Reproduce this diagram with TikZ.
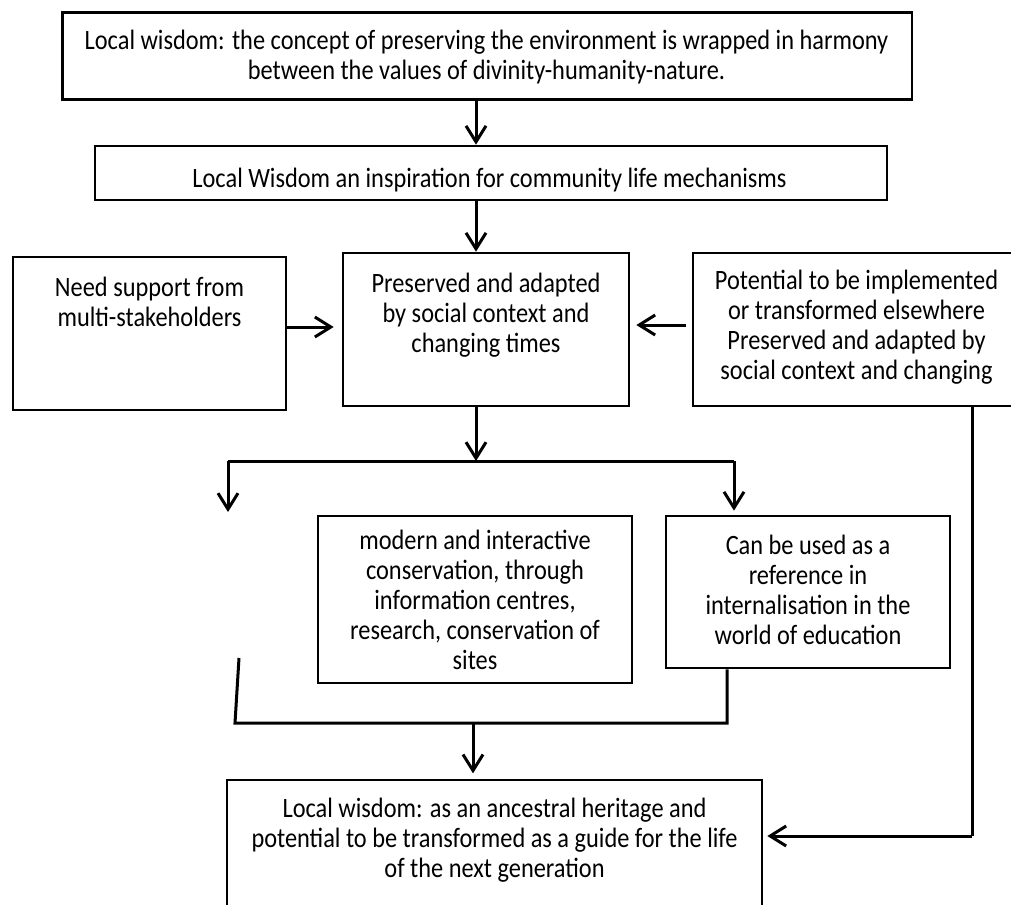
\documentclass[tikz,border=0pt]{standalone}
\usepackage{fontspec}
\setmainfont{Carlito}[FakeStretch=0.87]
\usetikzlibrary{arrows.meta}
\begin{document}
\begin{tikzpicture}[x=0.75pt,y=-0.75pt,
  boxnode/.style={draw, line width=2pt, inner sep=0pt},
  txt/.style={align=center, inner sep=0pt, font=\fontsize{21}{22.5}\selectfont},
  arr/.style={line width=2.25pt, -{Straight Barb[length=12pt,width=15pt,line width=2.25pt]}},
  ln/.style={line width=2.25pt}]
\useasboundingbox (0,0) rectangle (1011,904);
% boxes
\node[boxnode, minimum width=637.1pt, minimum height=65pt] (top) at (487.25,56) {};
\node[txt] (toptxt) at (486.5,57) {Local wisdom: the concept of preserving the environment is wrapped in harmony\\between the values of divinity-humanity-nature.};
\node[boxnode, minimum width=594pt, minimum height=40.5pt] (insp) at (491,173) {};
\node[txt] (insptxt) at (489.5,180) {Local Wisdom an inspiration for community life mechanisms};
\node[boxnode, minimum width=204.75pt, minimum height=114.75pt] (need) at (149.5,333.5) {};
\node[txt] (needtxt) at (149.5,302) {Need support from\\multi-stakeholders};
\node[boxnode, minimum width=214.5pt, minimum height=114.75pt] (pres) at (486,329.5) {};
\node[txt] (prestxt) at (486,315) {Preserved and adapted\\by social context and\\changing times};
\node[boxnode, minimum width=252.75pt, minimum height=114.75pt] (pot) at (861.5,329.5) {};
\node[txt] (pottxt) at (856.5,327) {Potential to be implemented\\or transformed elsewhere\\Preserved and adapted by\\social context and changing};
\node[boxnode, minimum width=235.5pt, minimum height=125.25pt] (mod) at (475,599.5) {};
\node[txt] (modtxt) at (475,600) {modern and interactive\\conservation, through\\information centres,\\research, conservation of\\sites};
\node[boxnode, minimum width=213pt, minimum height=114pt] (can) at (808,592) {};
\node[txt] (cantxt) at (808,590) {Can be used as a\\reference in\\internalisation in the\\world of education};
\node[boxnode, minimum width=401.25pt, minimum height=97.5pt] (bot) at (494.5,845) {};
\node[txt] (bottxt) at (494.5,840) {Local wisdom: as an ancestral heritage and\\potential to be transformed as a guide for the life\\of the next generation};
% helper coordinates
\coordinate (spine) at (476,0);
\coordinate (spineb) at (473,0);
\coordinate (midl) at (0,327);
\coordinate (midr) at (0,325);
\coordinate (bl) at (228,461);
\coordinate (br) at (734,461);
\coordinate (blend) at (228,512);
\coordinate (c1) at (239,658);
\coordinate (c2) at (235,723);
\coordinate (c3) at (727,723);
\coordinate (rt) at (972,836);
% connectors
\draw[arr] (top.south -| spine) -- (insp.north -| spine);
\draw[arr] (insp.south -| spine) -- (pres.north -| spine);
\draw[arr] (need.east |- midl) -- ([xshift=-6pt]pres.west |- midl);
\draw[arr] ([xshift=-4pt]pot.west |- midr) -- ([xshift=4.5pt]pres.east |- midr);
\draw[arr] (pres.south -| spine) -- (bl -| spine);
\draw[ln] (bl) -- (br);
\draw[arr] (bl) -- (blend);
\draw[arr] (br) -- ([yshift=3pt]can.north -| br);
\draw[ln] (c1) -- (c2) -- (c3) -- (can.south -| c3);
\draw[arr] (c2 -| spineb) -- ([yshift=4pt]bot.north -| spineb);
\draw[ln] (pot.south -| rt) -- (rt);
\draw[arr] (rt) -- ([xshift=3pt]bot.east |- rt);
\end{tikzpicture}
\end{document}
